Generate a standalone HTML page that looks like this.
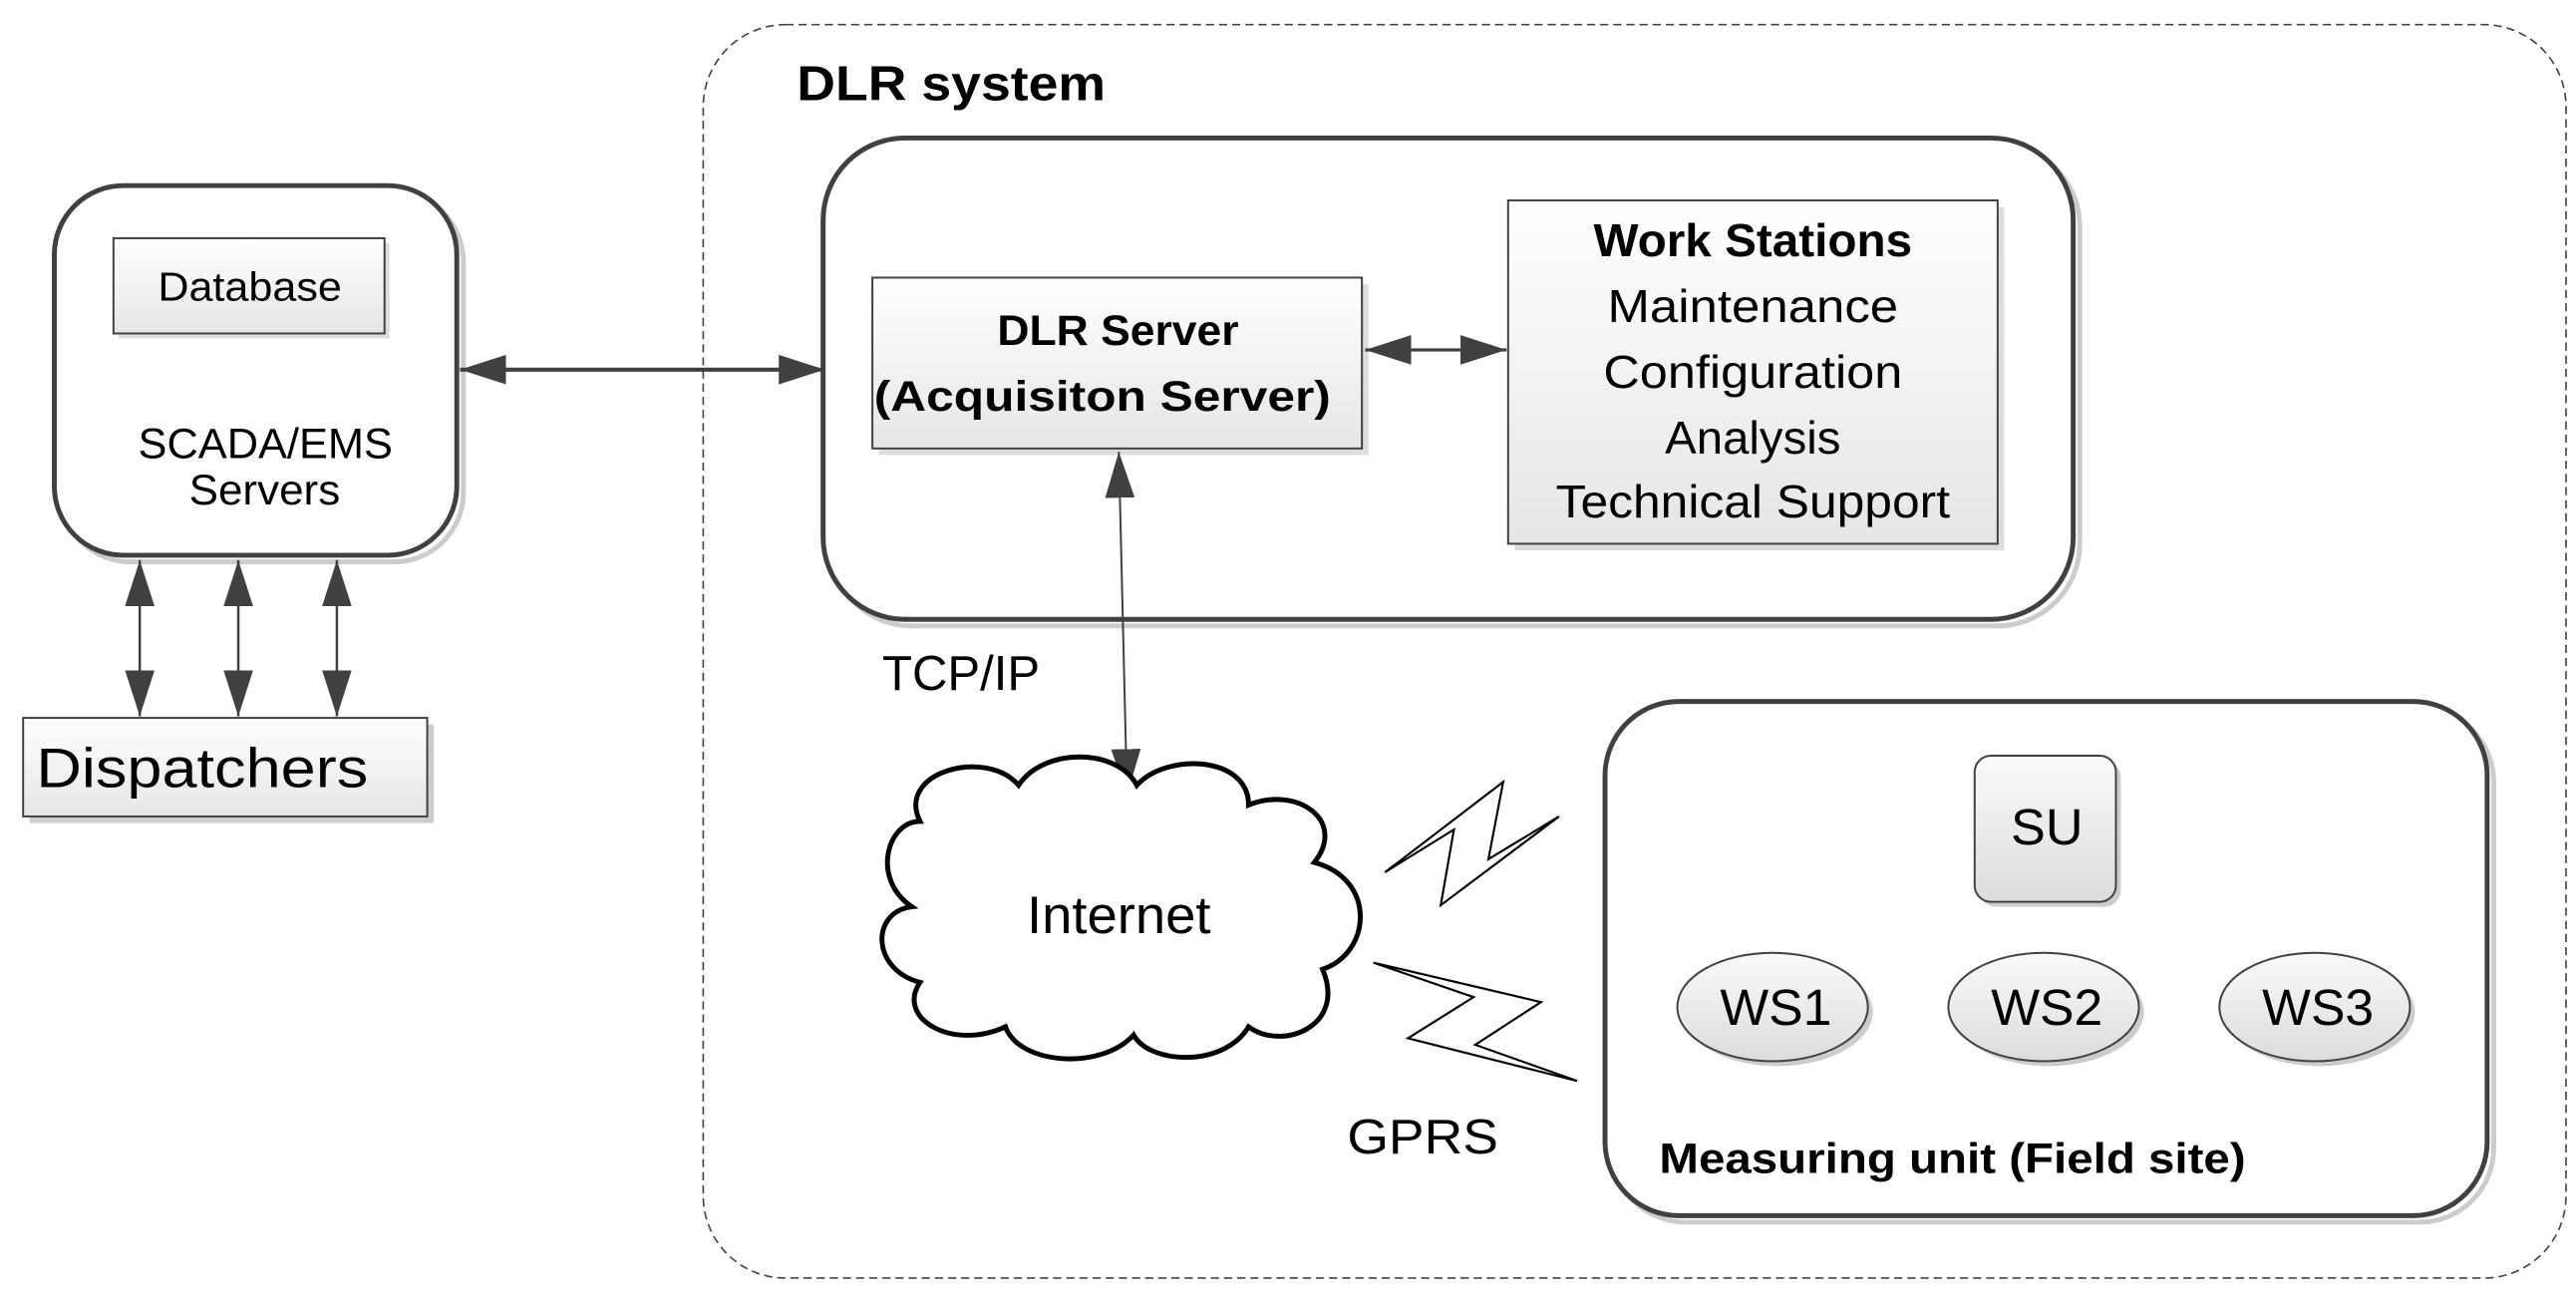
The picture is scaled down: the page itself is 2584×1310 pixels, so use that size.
<!DOCTYPE html>
<html><head><meta charset="utf-8"><style>
html,body{margin:0;padding:0;background:#fff;}
svg{display:block;}
text{font-family:"Liberation Sans",sans-serif;fill:#000;}
</style></head><body>
<svg width="2584" height="1310" viewBox="0 0 1568 795" xmlns="http://www.w3.org/2000/svg">
<defs>
<linearGradient id="g" x1="0" y1="0" x2="0" y2="1"><stop offset="0" stop-color="#fff"/><stop offset="1" stop-color="#e6e6e6"/></linearGradient>
<linearGradient id="g2" x1="0" y1="0" x2="0" y2="1"><stop offset="0" stop-color="#fafafa"/><stop offset="1" stop-color="#dcdcdc"/></linearGradient>
<marker id="b" viewBox="0 0 10 10" refX="10" refY="5" markerWidth="28" markerHeight="18" markerUnits="userSpaceOnUse" orient="auto-start-reverse" preserveAspectRatio="none"><path d="M0,0 L10,5 L0,10z" fill="#404040"/></marker>
</defs>
<rect x="428" y="15" width="1134" height="763" rx="50" fill="none" stroke="#444" stroke-width="1" stroke-dasharray="5,3"/>
<text x="485" y="61" font-size="30" font-weight="bold" textLength="188" lengthAdjust="spacingAndGlyphs">DLR system</text>

<rect x="37" y="117" width="245" height="225" rx="42" fill="none" stroke="#ccc" stroke-width="3"/>
<rect x="33" y="113" width="245" height="225" rx="42" fill="#fff" stroke="#404040" stroke-width="3"/>
<rect x="72" y="148" width="165" height="58" fill="#ddd"/>
<rect x="69" y="145" width="165" height="58" fill="url(#g)" stroke="#404040" stroke-width="1.2"/>
<text x="96" y="183" font-size="25" textLength="112" lengthAdjust="spacingAndGlyphs">Database</text>
<text x="84" y="279" font-size="26" textLength="155" lengthAdjust="spacingAndGlyphs">SCADA/EMS</text>
<text x="115" y="307" font-size="26" textLength="92" lengthAdjust="spacingAndGlyphs">Servers</text>

<rect x="18" y="441" width="246" height="60" fill="#ccc"/>
<rect x="14" y="437" width="246" height="60" fill="url(#g)" stroke="#404040" stroke-width="1.2"/>
<text x="22" y="479" font-size="34" textLength="202" lengthAdjust="spacingAndGlyphs">Dispatchers</text>
<g stroke="#404040" stroke-width="1.5">
<line x1="85" y1="341" x2="85" y2="436" marker-start="url(#b)" marker-end="url(#b)"/>
<line x1="145" y1="341" x2="145" y2="436" marker-start="url(#b)" marker-end="url(#b)"/>
<line x1="205" y1="341" x2="205" y2="436" marker-start="url(#b)" marker-end="url(#b)"/>
</g>
<line x1="280" y1="225" x2="502" y2="225" stroke="#404040" stroke-width="2.5" marker-start="url(#b)" marker-end="url(#b)"/>

<rect x="505" y="88" width="761" height="293" rx="50" fill="none" stroke="#ccc" stroke-width="3"/>
<rect x="501" y="84" width="761" height="293" rx="50" fill="#fff" stroke="#404040" stroke-width="3"/>
<rect x="535" y="173" width="298" height="104" fill="#ddd"/>
<rect x="531" y="169" width="298" height="104" fill="url(#g)" stroke="#404040" stroke-width="1.2"/>
<text x="607" y="210" font-size="26" font-weight="bold" textLength="147" lengthAdjust="spacingAndGlyphs">DLR Server</text>
<text x="532" y="250" font-size="26" font-weight="bold" textLength="278" lengthAdjust="spacingAndGlyphs">(Acquisiton Server)</text>
<rect x="922" y="126" width="298" height="209" fill="#ddd"/>
<rect x="918" y="122" width="298" height="209" fill="url(#g)" stroke="#404040" stroke-width="1.2"/>
<g font-size="28" text-anchor="middle">
<text x="1067" y="156" font-weight="bold" textLength="194" lengthAdjust="spacingAndGlyphs">Work Stations</text>
<text x="1067" y="196" textLength="177" lengthAdjust="spacingAndGlyphs">Maintenance</text>
<text x="1067" y="236" textLength="182" lengthAdjust="spacingAndGlyphs">Configuration</text>
<text x="1067" y="276" textLength="107" lengthAdjust="spacingAndGlyphs">Analysis</text>
<text x="1067" y="315" textLength="240" lengthAdjust="spacingAndGlyphs">Technical Support</text>
</g>
<line x1="831" y1="213" x2="917" y2="213" stroke="#404040" stroke-width="2" marker-start="url(#b)" marker-end="url(#b)"/>
<line x1="681" y1="275" x2="686" y2="484" stroke="#404040" stroke-width="1.2" marker-start="url(#b)" marker-end="url(#b)"/>
<text x="537" y="420" font-size="30" textLength="96" lengthAdjust="spacingAndGlyphs">TCP/IP</text>

<path d="M560,500 C545,470 600,455 620,478 C635,455 680,455 692,478 C710,458 760,460 760,490 C790,478 820,500 800,525 C838,535 835,580 805,590 C820,625 780,640 760,625 C745,650 700,648 690,630 C670,652 620,648 612,625 C580,640 545,620 560,598 C530,590 530,555 555,552 C530,535 540,500 560,500 Z" fill="#fff" stroke="#000" stroke-width="3"/>
<text x="625" y="568" font-size="32" textLength="112" lengthAdjust="spacingAndGlyphs">Internet</text>

<path d="M843,531 L915,476 L906,523 L949,497 L877,551 L885,505 Z" fill="#fff" stroke="#000" stroke-width="1.3"/>
<path d="M836,586 L938,610 L898,636 L960,658 L857,632 L897,607 Z" fill="#fff" stroke="#000" stroke-width="1.3"/>
<text x="820" y="702" font-size="30" textLength="92" lengthAdjust="spacingAndGlyphs">GPRS</text>

<rect x="981" y="431" width="537" height="313" rx="45" fill="none" stroke="#ccc" stroke-width="3"/>
<rect x="977" y="427" width="537" height="313" rx="45" fill="#fff" stroke="#404040" stroke-width="3"/>
<rect x="1205" y="463" width="86" height="89" rx="10" fill="#ccc"/>
<rect x="1202" y="460" width="86" height="89" rx="10" fill="url(#g2)" stroke="#404040" stroke-width="1.2"/>
<text x="1224" y="514" font-size="31" textLength="44" lengthAdjust="spacingAndGlyphs">SU</text>
<g stroke="#404040" stroke-width="1.2" fill="url(#g2)">
<ellipse cx="1082" cy="616" rx="58" ry="33" fill="#ccc" stroke="none"/>
<ellipse cx="1079" cy="613" rx="58" ry="33"/>
<ellipse cx="1247" cy="616" rx="58" ry="33" fill="#ccc" stroke="none"/>
<ellipse cx="1244" cy="613" rx="58" ry="33"/>
<ellipse cx="1412" cy="616" rx="58" ry="33" fill="#ccc" stroke="none"/>
<ellipse cx="1409" cy="613" rx="58" ry="33"/>
</g>
<g font-size="31" text-anchor="middle">
<text x="1081" y="624" textLength="68" lengthAdjust="spacingAndGlyphs">WS1</text>
<text x="1246" y="624" textLength="68" lengthAdjust="spacingAndGlyphs">WS2</text>
<text x="1411" y="624" textLength="68" lengthAdjust="spacingAndGlyphs">WS3</text>
</g>
<text x="1010" y="714" font-size="26" font-weight="bold" textLength="357" lengthAdjust="spacingAndGlyphs">Measuring unit (Field site)</text>
</svg>
</body></html>
